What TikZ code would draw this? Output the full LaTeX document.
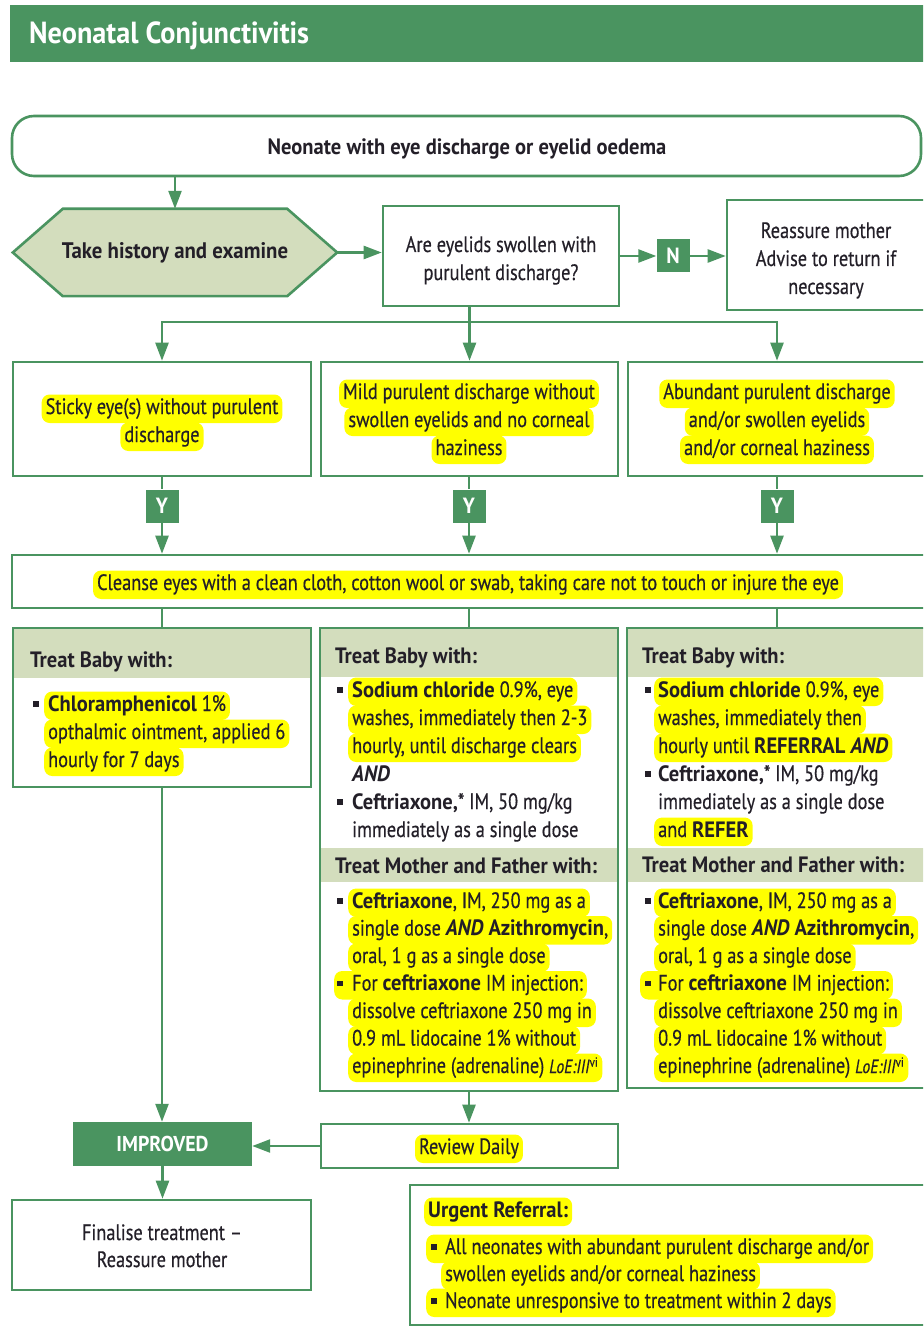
\documentclass[tikz,border=0pt]{standalone}
\usepackage{fontspec}
\setmainfont{PT Sans}[
  UprightFeatures={FakeStretch=0.825, FakeBold=0.4},
  ItalicFeatures={FakeStretch=0.825, FakeBold=0.4},
  BoldFeatures={FakeStretch=0.925},
  BoldItalicFeatures={FakeStretch=0.925}]
\usetikzlibrary{arrows.meta,calc,backgrounds,fit}
\definecolor{cgreen}{RGB}{74,148,96}
\definecolor{cband}{RGB}{211,221,189}
\definecolor{hly}{RGB}{255,255,0}
\definecolor{ink}{RGB}{35,31,40}
\newcommand\bodyfont{\fontsize{22.2}{28}\selectfont}
\newcommand\loe{{\fontsize{19}{20}\selectfont\textit{LoE:III}\textsuperscript{vi}}}

\begin{document}
\begin{tikzpicture}[x=1pt,y=-1pt,
  every node/.style={text=ink},
  box/.style={draw=cgreen, line width=2.6pt, fill=white, inner sep=0pt},
  tbox/.style={draw=cgreen, line width=2.6pt, inner sep=0pt},
  band/.style={fill=cband, inner sep=0pt},
  gbox/.style={fill=cgreen, inner sep=0pt},
  gtxt/.style={inner sep=0pt, text=white, font=\fontsize{22}{26}\selectfont\bfseries},
  ln/.style={inner xsep=4pt, inner ysep=3.5pt, text height=16pt, text depth=5.5pt, font=\bodyfont, anchor=base west},
  lnc/.style={ln, anchor=base},
  hd/.style={ln, font=\bodyfont\bfseries},
  hl/.style={ln, fill=hly, rounded corners=8pt},
  hlc/.style={hl, anchor=base},
  bul/.style={fill=ink, inner sep=0pt, minimum size=5.5pt},
  arr/.style={draw=cgreen, line width=2.4pt, -{Triangle[length=18pt,width=13pt]}},
  wire/.style={draw=cgreen, line width=2.4pt},
]
\clip (0,0) rectangle (923,1329);

% title bar
\node[fill=cgreen, inner sep=0pt, fit={(10,5) (930,62)}] (bar) {};
\node[anchor=base west, inner sep=0pt, text=white, font=\fontsize{30.5}{34}\selectfont\bfseries] (title) at (29,44) {Neonatal Conjunctivitis};

% entry
\node[box, rounded corners=22pt, fit={(12,116) (921,176)}] (start) {};
\node[lnc, font=\bodyfont\bfseries] (starttxt) at (467,155) {Neonate with eye discharge or eyelid oedema};

% history and examination
\node[minimum width=324pt, minimum height=87pt, inner sep=0pt, font=\fontsize{22.5}{28}\selectfont\bfseries] (hex) at (175,252.5) {Take history and examine};
\begin{scope}[on background layer]
  \fill[white] (0,0) rectangle (923,1329);
  \filldraw[fill=cband, draw=cgreen, line width=2.6pt]
    (hex.west) -- ($(hex.north west)+(50,0)$) -- ($(hex.north east)+(-50,0)$) -- (hex.east)
    -- ($(hex.south east)+(-50,0)$) -- ($(hex.south west)+(50,0)$) -- cycle;
\end{scope}

% question
\node[box, fit={(383,206) (619,306)}] (q) {};
\node[lnc] (q1) at (501,252) {Are eyelids swollen with};
\node[lnc] (q2) at (501,280) {purulent discharge?};

\node[gbox, minimum width=33pt, minimum height=33pt] (n) at (673,256) {};
\node[gtxt] (ntxt) at (n.center) {N};

\node[box, fit={(727,200) (930,310)}] (re) {};
\node[lnc] (re1) at (826,238) {Reassure mother};
\node[lnc] (re2) at (826,266) {Advise to return if};
\node[lnc] (re3) at (826,294) {necessary};

% three presentations
\node[box, fit={(13,362) (311,476)}] (bA) {};
\node[box, fit={(321,362) (618,476)}] (bB) {};
\node[box, fit={(628,362) (926,476)}] (bC) {};
\node[hlc] (a1) at (162,414) {Sticky eye(s) without purulent};
\node[hlc] (a2) at (162,442) {discharge};
\node[hlc] (b1) at (469,399) {Mild purulent discharge without};
\node[hlc] (b2) at (469,427) {swollen eyelids and no corneal};
\node[hlc] (b3) at (469,455) {haziness};
\node[hlc] (c1) at (777,399) {Abundant purulent discharge};
\node[hlc] (c2) at (777,427) {and/or swollen eyelids};
\node[hlc] (c3) at (777,455) {and/or corneal haziness};

\node[gbox, minimum width=33pt, minimum height=33pt] (yA) at (162,506) {};
\node[gbox, minimum width=33pt, minimum height=33pt] (yB) at (469,506) {};
\node[gbox, minimum width=33pt, minimum height=33pt] (yC) at (777,506) {};
\node[gtxt] (yAt) at (yA.center) {Y};
\node[gtxt] (yBt) at (yB.center) {Y};
\node[gtxt] (yCt) at (yC.center) {Y};

% cleansing
\node[box, fit={(12,555) (930,608)}] (cl) {};
\node[hlc] (cltxt) at (468,590) {Cleanse eyes with a clean cloth, cotton wool or swab, taking care not to touch or injure the eye};

% treatment columns
\node[band, fit={(13,628) (311,678)}] (bandA) {};
\node[band, fit={(320,628) (618,677)}] (bandB) {};
\node[band, fit={(320,848) (618,882)}] (bandB2) {};
\node[band, fit={(627,628) (927,677)}] (bandC) {};
\node[band, fit={(627,848) (927,882)}] (bandC2) {};
\node[tbox, fit={(13,628) (311,787)}] (tA) {};
\node[tbox, fit={(320,628) (618,1091)}] (tB) {};
\node[tbox, fit={(627,628) (927,1088)}] (tC) {};

% left column
\node[hd] (hA) at (26,667) {Treat Baby with:};
\node[hl] (la1) at (44,711) {\textbf{Chloramphenicol} 1\%};
\node[hl] (la2) at (44,739) {opthalmic ointment, applied 6};
\node[hl] (la3) at (44,767) {hourly for 7 days};
\node[bul] (pa1) at (36,704) {};

% middle column
\node[hd] (hB) at (331,663) {Treat Baby with:};
\node[hl] (lb1) at (348,697) {\textbf{Sodium chloride} 0.9\%, eye};
\node[hl] (lb2) at (348,725) {washes, immediately then 2-3};
\node[hl] (lb3) at (348,753) {hourly, until discharge clears};
\node[ln] (lb4) at (348,781) {\textbf{\textit{AND}}};
\node[ln] (lb5) at (348,809) {\textbf{Ceftriaxone,}* IM, 50 mg/kg};
\node[ln] (lb6) at (348,837) {immediately as a single dose};
\node[hd] (hB2) at (331,873) {Treat Mother and Father with:};
\node[hl] (lb7) at (348,908) {\textbf{Ceftriaxone}, IM, 250 mg as a};
\node[hl] (lb8) at (348,935.5) {single dose \textbf{\textit{AND}} \textbf{Azithromycin},};
\node[hl] (lb9) at (348,963) {oral, 1 g as a single dose};
\node[hl] (lb10) at (334,990.5) {\hspace*{14pt}For \textbf{ceftriaxone} IM injection:};
\node[hl] (lb11) at (348,1018) {dissolve ceftriaxone 250 mg in};
\node[hl] (lb12) at (348,1045.5) {0.9 mL lidocaine 1\% without};
\node[hl] (lb13) at (348,1073) {epinephrine (adrenaline) \loe};
\node[bul] (pb1) at (340,690) {};
\node[bul] (pb2) at (340,802) {};
\node[bul] (pb3) at (340,901) {};
\node[bul] (pb4) at (340,983.5) {};

% right column
\node[hd] (hC) at (638,663) {Treat Baby with:};
\node[hl] (lc1) at (654,697) {\textbf{Sodium chloride} 0.9\%, eye};
\node[hl] (lc2) at (654,725) {washes, immediately then};
\node[hl] (lc3) at (654,753) {hourly until \textbf{REFERRAL \textit{AND}}};
\node[ln] (lc4) at (654,781) {\textbf{Ceftriaxone,}* IM, 50 mg/kg};
\node[ln] (lc5) at (654,809) {immediately as a single dose};
\node[hl] (lc6) at (654,837) {and \textbf{REFER}};
\node[hd] (hC2) at (638,872) {Treat Mother and Father with:};
\node[hl] (lc7) at (654,908) {\textbf{Ceftriaxone}, IM, 250 mg as a};
\node[hl] (lc8) at (654,935.5) {single dose \textbf{\textit{AND}} \textbf{Azithromycin},};
\node[hl] (lc9) at (654,963) {oral, 1 g as a single dose};
\node[hl] (lc10) at (640,990.5) {\hspace*{14pt}For \textbf{ceftriaxone} IM injection:};
\node[hl] (lc11) at (654,1018) {dissolve ceftriaxone 250 mg in};
\node[hl] (lc12) at (654,1045.5) {0.9 mL lidocaine 1\% without};
\node[hl] (lc13) at (654,1073) {epinephrine (adrenaline) \loe};
\node[bul] (pc1) at (648,690) {};
\node[bul] (pc2) at (648,774) {};
\node[bul] (pc3) at (648,901) {};
\node[bul] (pc4) at (648,983.5) {};

% outcome
\node[gbox, fit={(73,1122) (252,1166)}] (imp) {};
\node[gtxt, font=\fontsize{21.5}{26}\selectfont\bfseries] (imptxt) at (imp.center) {IMPROVED};
\node[box, fit={(321,1124) (618,1168)}] (rev) {};
\node[hlc] (revtxt) at (469,1154) {Review Daily};
\node[box, fit={(12,1200) (311,1290)}] (fin) {};
\node[lnc] (fin1) at (162,1240) {Finalise treatment –};
\node[lnc] (fin2) at (162,1267) {Reassure mother};

% referral
\node[box, fit={(410,1185) (930,1325)}] (urg) {};
\node[hl, font=\bodyfont\bfseries] (u0) at (424,1217) {Urgent Referral:};
\node[hl] (u1) at (426,1254) {\hspace*{15pt}All neonates with abundant purulent discharge and/or};
\node[hl] (u2) at (441,1281) {swollen eyelids and/or corneal haziness};
\node[hl] (u3) at (426,1308) {\hspace*{15pt}Neonate unresponsive to treatment within 2 days};
\node[bul] (pu1) at (434,1247) {};
\node[bul] (pu2) at (434,1301) {};

% connectors
\draw[arr] (start.south -| hex.north) -- (hex.north);
\draw[arr] (hex.east) -- (hex.east -| q.west);
\draw[arr] (q.east |- n.west) -- (n.west);
\draw[arr] (n.east) -- (n.east -| re.west);
\coordinate (split) at (469,322);
\draw[arr] (q.south -| bB.north) -- (bB.north);
\draw[arr] (split) -| (bA.north);
\draw[arr] (split) -| (bC.north);
\draw[wire] (bA.south -| yA.north) -- (yA.north);
\draw[wire] (bB.south -| yB.north) -- (yB.north);
\draw[wire] (bC.south -| yC.north) -- (yC.north);
\draw[arr] (yA.south) -- (yA.south |- cl.north);
\draw[arr] (yB.south) -- (yB.south |- cl.north);
\draw[arr] (yC.south) -- (yC.south |- cl.north);
\draw[wire] (cl.south -| tA.north) -- (tA.north);
\draw[wire] (cl.south -| tB.north) -- (tB.north);
\draw[wire] (cl.south -| tC.north) -- (tC.north);
\draw[arr] (tA.south) -- (tA.south |- imp.north);
\draw[arr] (tB.south) -- (tB.south |- rev.north);
\draw[arr] (rev.west) -- (rev.west -| imp.east);
\draw[arr] (imp.south) -- (imp.south |- fin.north);
\end{tikzpicture}
\end{document}
